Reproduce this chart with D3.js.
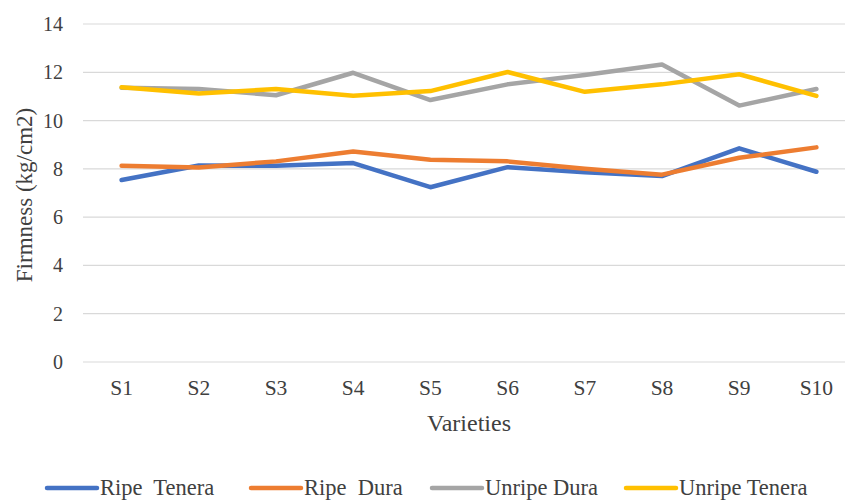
<!DOCTYPE html>
<html>
<head>
<meta charset="utf-8">
<script src="https://cdn.jsdelivr.net/npm/d3@7"></script>
<style>
    body { margin: 0; background: #fff; }
</style>
</head>
<body>
<div id="chart"></div>
<script>
'use strict';

// Data
const varieties = ['S1', 'S2', 'S3', 'S4', 'S5', 'S6', 'S7', 'S8', 'S9', 'S10'];
const ripeTenera = [7.54, 8.14, 8.13, 8.24, 7.24, 8.07, 7.86, 7.70, 8.85, 7.88];
const ripeDura = [8.13, 8.06, 8.31, 8.72, 8.38, 8.31, 8.00, 7.76, 8.46, 8.89];
const unripeDura = [11.36, 11.31, 11.05, 11.98, 10.85, 11.50, 11.89, 12.32, 10.62, 11.31];
const unripeTenera = [11.38, 11.12, 11.31, 11.03, 11.22, 12.01, 11.19, 11.50, 11.92, 11.02];
const yTicks = [0, 2, 4, 6, 8, 10, 12, 14];

const series = [
    {name: 'Ripe  Tenera', values: ripeTenera, color: '#4472c4'},
    {name: 'Ripe  Dura', values: ripeDura, color: '#ed7d31'},
    {name: 'Unripe Dura', values: unripeDura, color: '#a5a5a5'},
    {name: 'Unripe Tenera', values: unripeTenera, color: '#ffc000'}
];

// Configs
const svgW = 845, svgH = 500;
const plot = {left: 83, right: 855, top: 24, bottom: 362};
const font = '"Liberation Serif", "Times New Roman", "DejaVu Serif", serif';
const textColor = '#404040';

const svg = d3.select('#chart').append('svg')
    .attr('width', svgW)
    .attr('height', svgH)
    .attr('font-family', font);

// Scales
const x = d3.scaleBand().domain(varieties).range([plot.left, plot.right]);
const y = d3.scaleLinear().domain([0, 14]).range([plot.bottom, plot.top]);

// Grid
svg.append('g').selectAll('line')
    .data(yTicks)
    .join('line')
    .attr('x1', plot.left)
    .attr('x2', svgW)
    .attr('y1', d => y(d))
    .attr('y2', d => y(d))
    .attr('stroke', '#d9d9d9')
    .attr('stroke-width', 1.2);

// Y tick labels
svg.append('g').selectAll('text')
    .data(yTicks)
    .join('text')
    .attr('x', 63)
    .attr('y', d => y(d) + 7)
    .attr('text-anchor', 'end')
    .attr('font-size', 20)
    .attr('fill', textColor)
    .text(d => d);

// X tick labels
svg.append('g').selectAll('text')
    .data(varieties)
    .join('text')
    .attr('x', d => x(d) + x.bandwidth() / 2)
    .attr('y', 395)
    .attr('text-anchor', 'middle')
    .attr('font-size', 21.5)
    .attr('fill', textColor)
    .text(d => d);

// Axis titles
svg.append('text')
    .attr('transform', `translate(32, ${(plot.top + plot.bottom) / 2 + 2}) rotate(-90)`)
    .attr('text-anchor', 'middle')
    .attr('font-size', 23)
    .attr('fill', textColor)
    .text('Firmness (kg/cm2)');

svg.append('text')
    .attr('x', 469)
    .attr('y', 431)
    .attr('text-anchor', 'middle')
    .attr('font-size', 24)
    .attr('fill', textColor)
    .text('Varieties');

// Lines
const lineMaker = d3.line()
    .x((d, i) => x(varieties[i]) + x.bandwidth() / 2)
    .y(d => y(d));

svg.append('g').selectAll('path')
    .data(series)
    .join('path')
    .attr('d', d => lineMaker(d.values))
    .attr('fill', 'none')
    .attr('stroke', d => d.color)
    .attr('stroke-width', 4.5)
    .attr('stroke-linejoin', 'round')
    .attr('stroke-linecap', 'round');

// Legend
const legendX = [47, 251, 432, 626];
const legendG = svg.append('g').selectAll('g')
    .data(series)
    .join('g')
    .attr('transform', (d, i) => `translate(${legendX[i]}, 488)`);
legendG.append('line')
    .attr('x1', 0)
    .attr('x2', 50)
    .attr('stroke', d => d.color)
    .attr('stroke-width', 4.5)
    .attr('stroke-linecap', 'round');
legendG.append('text')
    .attr('x', 53)
    .attr('y', 6.5)
    .attr('font-size', 22.5)
    .attr('fill', textColor)
    .style('white-space', 'pre')
    .text(d => d.name);
</script>
</body>
</html>
